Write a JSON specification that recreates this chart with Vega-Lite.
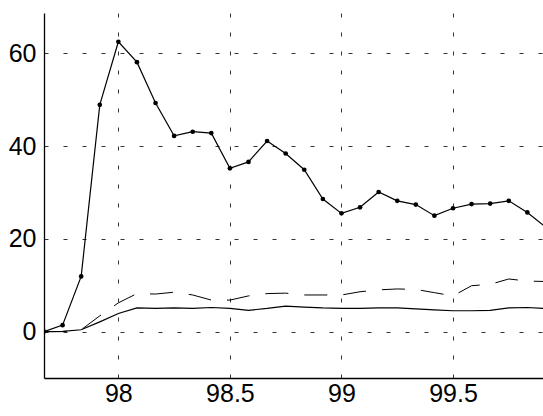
{
  "$schema": "https://vega.github.io/schema/vega-lite/v6.json",
  "autosize": {"type": "none"},
  "padding": {"left": 44, "top": 13, "right": 0, "bottom": 38},
  "width": 499,
  "height": 365,
  "background": "white",
  "config": {
    "view": {"stroke": null},
    "font": "Liberation Sans",
    "axis": {
      "domainColor": "black",
      "domainWidth": 1.3,
      "ticks": false,
      "labelFont": "Liberation Sans",
      "labelFontSize": 25,
      "labelColor": "black",
      "gridColor": "#333333",
      "gridWidth": 1,
      "gridDash": [4, 15],
      "gridOpacity": 1,
      "title": null
    }
  },
  "data": {
    "values": [
      {"t": 97.6667, "s": "a", "v": 0}, {"t": 97.75, "s": "a", "v": 1.4}, {"t": 97.8333, "s": "a", "v": 11.9}, {"t": 97.9167, "s": "a", "v": 48.9},
      {"t": 98.0, "s": "a", "v": 62.5}, {"t": 98.0833, "s": "a", "v": 58.1}, {"t": 98.1667, "s": "a", "v": 49.3}, {"t": 98.25, "s": "a", "v": 42.2},
      {"t": 98.3333, "s": "a", "v": 43.1}, {"t": 98.4167, "s": "a", "v": 42.8}, {"t": 98.5, "s": "a", "v": 35.2}, {"t": 98.5833, "s": "a", "v": 36.6},
      {"t": 98.6667, "s": "a", "v": 41.1}, {"t": 98.75, "s": "a", "v": 38.4}, {"t": 98.8333, "s": "a", "v": 34.9}, {"t": 98.9167, "s": "a", "v": 28.6},
      {"t": 99.0, "s": "a", "v": 25.5}, {"t": 99.0833, "s": "a", "v": 26.8}, {"t": 99.1667, "s": "a", "v": 30.1}, {"t": 99.25, "s": "a", "v": 28.2},
      {"t": 99.3333, "s": "a", "v": 27.4}, {"t": 99.4167, "s": "a", "v": 25.0}, {"t": 99.5, "s": "a", "v": 26.6}, {"t": 99.5833, "s": "a", "v": 27.5},
      {"t": 99.6667, "s": "a", "v": 27.6}, {"t": 99.75, "s": "a", "v": 28.2}, {"t": 99.8333, "s": "a", "v": 25.7}, {"t": 99.9167, "s": "a", "v": 22.5},

      {"t": 97.6667, "s": "b", "v": 0}, {"t": 97.75, "s": "b", "v": 0}, {"t": 97.8333, "s": "b", "v": 0.4}, {"t": 97.9167, "s": "b", "v": 3.4},
      {"t": 98.0, "s": "b", "v": 6.2}, {"t": 98.0833, "s": "b", "v": 8.2}, {"t": 98.1667, "s": "b", "v": 8.1}, {"t": 98.25, "s": "b", "v": 8.5},
      {"t": 98.3333, "s": "b", "v": 7.9}, {"t": 98.4167, "s": "b", "v": 6.8}, {"t": 98.5, "s": "b", "v": 6.8}, {"t": 98.5833, "s": "b", "v": 7.7},
      {"t": 98.6667, "s": "b", "v": 8.2}, {"t": 98.75, "s": "b", "v": 8.3}, {"t": 98.8333, "s": "b", "v": 7.9}, {"t": 98.9167, "s": "b", "v": 7.9},
      {"t": 99.0, "s": "b", "v": 7.9}, {"t": 99.0833, "s": "b", "v": 8.6}, {"t": 99.1667, "s": "b", "v": 9.0}, {"t": 99.25, "s": "b", "v": 9.2},
      {"t": 99.3333, "s": "b", "v": 9.1}, {"t": 99.4167, "s": "b", "v": 8.4}, {"t": 99.5, "s": "b", "v": 7.7}, {"t": 99.5833, "s": "b", "v": 9.9},
      {"t": 99.6667, "s": "b", "v": 10.2}, {"t": 99.75, "s": "b", "v": 11.35}, {"t": 99.8333, "s": "b", "v": 10.9}, {"t": 99.9167, "s": "b", "v": 10.8},

      {"t": 97.6667, "s": "c", "v": 0}, {"t": 97.75, "s": "c", "v": 0.05}, {"t": 97.8333, "s": "c", "v": 0.4}, {"t": 97.9167, "s": "c", "v": 2.1},
      {"t": 98.0, "s": "c", "v": 3.9}, {"t": 98.0833, "s": "c", "v": 5.1}, {"t": 98.1667, "s": "c", "v": 5.0}, {"t": 98.25, "s": "c", "v": 5.1},
      {"t": 98.3333, "s": "c", "v": 5.0}, {"t": 98.4167, "s": "c", "v": 5.2}, {"t": 98.5, "s": "c", "v": 5.0}, {"t": 98.5833, "s": "c", "v": 4.6},
      {"t": 98.6667, "s": "c", "v": 5.0}, {"t": 98.75, "s": "c", "v": 5.5}, {"t": 98.8333, "s": "c", "v": 5.3}, {"t": 98.9167, "s": "c", "v": 5.1},
      {"t": 99.0, "s": "c", "v": 5.0}, {"t": 99.0833, "s": "c", "v": 5.0}, {"t": 99.1667, "s": "c", "v": 5.1}, {"t": 99.25, "s": "c", "v": 5.1},
      {"t": 99.3333, "s": "c", "v": 4.9}, {"t": 99.4167, "s": "c", "v": 4.7}, {"t": 99.5, "s": "c", "v": 4.5}, {"t": 99.5833, "s": "c", "v": 4.5},
      {"t": 99.6667, "s": "c", "v": 4.6}, {"t": 99.75, "s": "c", "v": 5.1}, {"t": 99.8333, "s": "c", "v": 5.2}, {"t": 99.9167, "s": "c", "v": 5.0}
    ]
  },
  "encoding": {
    "x": {
      "field": "t", "type": "quantitative",
      "scale": {"domain": [97.6667, 99.9034], "nice": false, "zero": false},
      "axis": {"values": [98, 98.5, 99, 99.5], "format": "~g", "labelPadding": 3, "grid": true}
    },
    "y": {
      "field": "v", "type": "quantitative",
      "scale": {"domain": [-10, 68.7], "nice": false, "zero": false},
      "axis": {"values": [0, 20, 40, 60], "labelPadding": 8, "grid": true}
    }
  },
  "layer": [
    {
      "transform": [{"filter": "datum.s === 'c'"}],
      "mark": {"type": "line", "color": "black", "strokeWidth": 1.2, "clip": true}
    },
    {
      "transform": [{"filter": "datum.s === 'b'"}],
      "mark": {"type": "line", "color": "black", "strokeWidth": 1, "strokeDash": [23, 16], "clip": true}
    },
    {
      "transform": [{"filter": "datum.s === 'a'"}],
      "mark": {"type": "line", "color": "black", "strokeWidth": 1.2, "clip": true}
    },
    {
      "transform": [{"filter": "datum.s === 'a'"}],
      "mark": {"type": "point", "filled": true, "color": "black", "opacity": 1, "size": 22, "clip": true}
    },
    {
      "data": {"values": [{}]},
      "mark": {"type": "rule", "color": "black", "strokeWidth": 1.5},
      "encoding": {"y": {"datum": 68.7}, "x": {"datum": 97.6667}, "x2": {"datum": 99.9034}}
    }
  ]
}
